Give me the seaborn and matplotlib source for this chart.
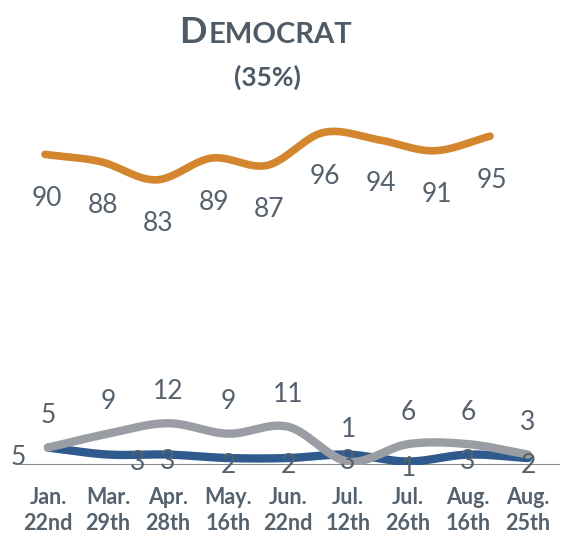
"""Democrat (35%) - smoothed line chart"""

import numpy as np
import matplotlib
matplotlib.use('Agg')
import matplotlib.pyplot as plt
import seaborn as sns

# data
dates = ['Jan.\n22nd', 'Mar.\n29th', 'Apr.\n28th', 'May.\n16th', 'Jun.\n22nd',
         'Jul.\n12th', 'Jul.\n26th', 'Aug.\n16th', 'Aug.\n25th']
orange_vals = [90, 88, 83, 89, 87, 96, 94, 91, 95]
gray_vals = [5, 9, 12, 9, 11, 1, 6, 6, 3]
blue_vals = [5, 3, 3, 2, 2, 3, 1, 3, 2]

ORANGE = '#d4862e'
GRAY = '#9a9da4'
BLUE = '#2e5a8e'
TEXT = '#55616c'


def smooth(y, n=30):
    """Catmull-Rom curve through the points (like Excel's smoothed line)"""
    y = np.asarray(y, dtype=float)
    x = np.arange(len(y), dtype=float)
    px = np.concatenate([[2 * x[0] - x[1]], x, [2 * x[-1] - x[-2]]])
    py = np.concatenate([[2 * y[0] - y[1]], y, [2 * y[-1] - y[-2]]])
    t = np.linspace(0, 1, n, endpoint=False)
    xs, ys = [], []
    for i in range(1, len(px) - 2):
        for p, out in ((px, xs), (py, ys)):
            p0, p1, p2, p3 = p[i - 1], p[i], p[i + 1], p[i + 2]
            out.extend(0.5 * (2 * p1 + (-p0 + p2) * t
                              + (2 * p0 - 5 * p1 + 4 * p2 - p3) * t ** 2
                              + (-p0 + 3 * p1 - 3 * p2 + p3) * t ** 3))
    xs.append(x[-1])
    ys.append(y[-1])
    return np.array(xs), np.array(ys)


sns.set_theme(style='white')
plt.rcParams['font.family'] = ['Lato', 'DejaVu Sans']

fig = plt.figure(figsize=(5.64, 5.48), dpi=100)
rect = [20 / 564, 83 / 548, 540 / 564, 348 / 548]
ax = fig.add_axes(rect)
ax2 = fig.add_axes(rect, frameon=False)

# main axis: gray and blue series
ax.set_xlim(-0.467, 8.533)
ax.set_ylim(0, 100)
ax.axhline(0, color='#8a8a8a', lw=1.5, zorder=1)

xb, yb = smooth(blue_vals)
sns.lineplot(x=xb, y=yb, ax=ax, color=BLUE, lw=6, sort=False, zorder=3)
xg, yg = smooth(gray_vals)
sns.lineplot(x=xg, y=yg, ax=ax, color=GRAY, lw=6, sort=False, zorder=4)
ax.lines[-1].set_solid_capstyle('round')
ax.lines[-2].set_solid_capstyle('round')

for i, v in enumerate(gray_vals):
    ax.annotate(str(v), (i, v), xytext=(0, 32), textcoords='offset pixels',
                ha='center', va='center', fontsize=19, color=TEXT, zorder=5)

# blue labels: first one sits to the left, Mar. one nudged right
blue_nudge = {0: (-30, -10), 1: (30, -8)}
for i, v in enumerate(blue_vals):
    dx, dy = blue_nudge.get(i, (0, -7))
    ax.annotate(str(v), (i, v), xytext=(dx, dy), textcoords='offset pixels',
                ha='center', va='center', fontsize=19, color=TEXT, zorder=5)

ax.set_xticks(range(len(dates)))
ax.set_xticklabels(dates, fontsize=15.5, fontweight='bold', color=TEXT,
                   linespacing=1.3)
ax.tick_params(axis='x', length=0, pad=16)
ax.set_yticks([])
for s in ax.spines.values():
    s.set_visible(False)

# orange series on its own axis
ax2.set_xlim(-0.449, 9.258)
ax2.set_ylim(4.67, 100.27)
xo, yo = smooth(orange_vals)
sns.lineplot(x=xo, y=yo, ax=ax2, color=ORANGE, lw=5.5, sort=False)
ax2.lines[-1].set_solid_capstyle('round')
for i, v in enumerate(orange_vals):
    ax2.annotate(str(v), (i, v), xytext=(2, -44), textcoords='offset pixels',
                 ha='center', va='center', fontsize=19, color=TEXT)
ax2.set_xticks([])
ax2.set_yticks([])

# title in small caps
fig.text(207 / 564, 1 - 43 / 548, 'D', ha='right', va='baseline',
         fontsize=26, fontweight='bold', color='#4e5a66')
fig.text(209 / 564, 1 - 43 / 548, 'EMOCRAT', ha='left', va='baseline',
         fontsize=21, fontweight='bold', color='#4e5a66')
fig.text(267 / 564, 1 - 77 / 548, '(35%)', ha='center', va='center',
         fontsize=19, fontweight='bold', color='#4e5a66')

fig.savefig('out.png', dpi=100, facecolor='white')
